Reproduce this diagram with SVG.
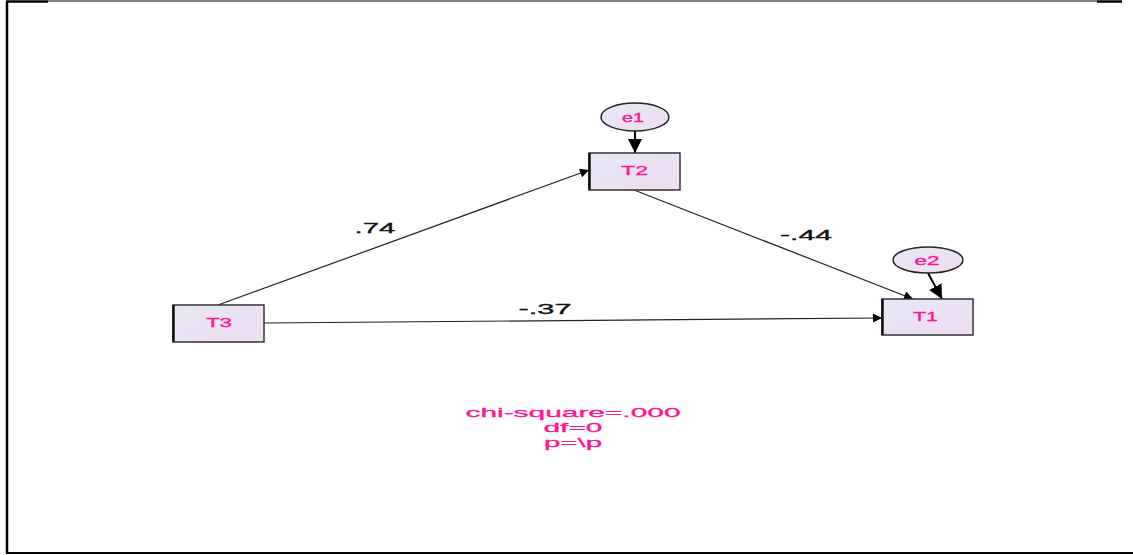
<svg xmlns="http://www.w3.org/2000/svg" width="1133" height="555" viewBox="0 0 1133 555">
<style>
.box{fill:url(#g);stroke:#333;stroke-width:1.5}
.ell{fill:url(#g);stroke:#222;stroke-width:1.5}
.lbl{font-family:"Liberation Sans",Arial,sans-serif;font-size:13px;fill:#ff1493;stroke:#ff1493;stroke-width:0.35;text-anchor:middle}
.num{font-family:"Liberation Sans",Arial,sans-serif;font-size:14px;fill:#111;stroke:#111;stroke-width:0.3;text-anchor:middle}
.stat{font-family:"Liberation Sans",Arial,sans-serif;font-size:13px;fill:#ff1493;stroke:#ff1493;stroke-width:0.3;text-anchor:middle}
.c{stroke:#222;stroke-width:1.2;fill:none;marker-end:url(#a)}
.c2{stroke:#000;stroke-width:2;fill:none;marker-end:url(#a2)}
</style>
<defs>
<linearGradient id="g" x1="0" y1="0" x2="1" y2="1">
<stop offset="0" stop-color="#e6e8f4"/><stop offset="1" stop-color="#f0dcf2"/>
</linearGradient>
<marker id="a" viewBox="0 0 10 10" refX="10" refY="5" markerWidth="22" markerHeight="9" markerUnits="userSpaceOnUse" orient="auto"><path d="M0,0L10,5L0,10z" fill="#000"/></marker>
<marker id="a2" viewBox="0 0 10 10" refX="10" refY="5" markerWidth="14" markerHeight="14" markerUnits="userSpaceOnUse" orient="auto"><path d="M0,0L10,5L0,10z" fill="#000"/></marker>
</defs>
<rect width="1133" height="555" fill="#fff"/>
<g id="frame" stroke="#000" fill="none">
<line x1="7" y1="2" x2="7" y2="553" stroke-width="2.5"/>
<line x1="6" y1="553" x2="1133" y2="553" stroke-width="2"/>
<line x1="6" y1="1.5" x2="48" y2="1.5" stroke-width="2.5"/>
<line x1="48" y1="1" x2="1097" y2="1" stroke-width="1"/>
<line x1="1097" y1="1.5" x2="1122" y2="1.5" stroke-width="2.5"/>
</g>
<g id="connectors">
<line class="c" x1="218" y1="305" x2="589" y2="170"/>
<line class="c" x1="634" y1="190" x2="913" y2="299"/>
<line class="c" x1="264" y1="323" x2="882" y2="318"/>
<line class="c2" x1="635" y1="131" x2="635" y2="153"/>
<line class="c2" x1="928" y1="273" x2="942" y2="299"/>
</g>
<g id="labels">
<text class="num" x="375" y="233" textLength="41" lengthAdjust="spacingAndGlyphs">.74</text>
<text class="num" x="545" y="314" textLength="53" lengthAdjust="spacingAndGlyphs">-.37</text>
<text class="num" x="806" y="240" textLength="52" lengthAdjust="spacingAndGlyphs">-.44</text>
</g>
<g id="e1"><ellipse class="ell" cx="635" cy="117" rx="34" ry="14"/><text class="lbl" x="633" y="122" textLength="22" lengthAdjust="spacingAndGlyphs">e1</text></g>
<g id="e2"><ellipse class="ell" cx="928" cy="260" rx="35" ry="13"/><text class="lbl" x="927" y="265" textLength="25" lengthAdjust="spacingAndGlyphs">e2</text></g>
<g id="T2"><rect class="box" x="589" y="153" width="91" height="37"/><line x1="589.5" y1="153" x2="589.5" y2="190" stroke="#111" stroke-width="2.5"/><text class="lbl" x="634.5" y="175" textLength="27" lengthAdjust="spacingAndGlyphs">T2</text></g>
<g id="T3"><rect class="box" x="173" y="305" width="91" height="37"/><line x1="173.5" y1="305" x2="173.5" y2="342" stroke="#111" stroke-width="2.5"/><text class="lbl" x="219" y="327" textLength="26" lengthAdjust="spacingAndGlyphs">T3</text></g>
<g id="T1"><rect class="box" x="882" y="299" width="91" height="36"/><line x1="882.5" y1="299" x2="882.5" y2="335" stroke="#111" stroke-width="2.5"/><text class="lbl" x="925.5" y="321" textLength="25" lengthAdjust="spacingAndGlyphs">T1</text></g>
<g id="stats">
<text class="stat" x="573" y="417" textLength="215" lengthAdjust="spacingAndGlyphs">chi-square=.000</text>
<text class="stat" x="573" y="432" textLength="59" lengthAdjust="spacingAndGlyphs">df=0</text>
<text class="stat" x="573" y="447" textLength="58" lengthAdjust="spacingAndGlyphs">p=\p</text>
</g>
</svg>
